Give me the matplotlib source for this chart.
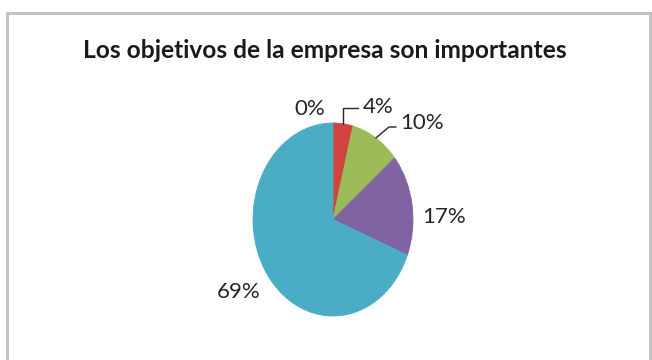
import matplotlib
matplotlib.use("Agg")
import matplotlib.pyplot as plt
from matplotlib.patches import Rectangle
import numpy as np

# Survey answers for "Los objetivos de la empresa son importantes"
categories = ["Totalmente en desacuerdo", "En desacuerdo", "Indiferente",
              "De acuerdo", "Totalmente de acuerdo"]
values = [0, 4, 10, 17, 69]
labels = [f"{v}%" for v in values]
colors = ["#4F81BD", "#D0433F", "#9BBB59", "#8064A2", "#4BACC6"]
title = "Los objetivos de la empresa son importantes"

W, H = 652, 360
fig = plt.figure(figsize=(W / 100, H / 100), dpi=100)
fig.patch.set_facecolor("white")

# chart area border
fig.patches.append(Rectangle((7, -10), 643, H - 13 + 10, transform=None,
                             fill=False, edgecolor="#c4c4c4", linewidth=2.2))

# pie axes (pixel box of the ellipse)
cx, cy, rx, ry = 333, 219.5, 80, 96.5
ax = fig.add_axes([(cx - rx) / W, (H - cy - ry) / H, 2 * rx / W, 2 * ry / H])
wedges, _ = ax.pie(values, colors=colors, startangle=90, counterclock=False,
                   radius=1, wedgeprops=dict(linewidth=0.6, edgecolor="#5a8fa8"))
for w, c in zip(wedges, colors):
    w.set_edgecolor(c)
ax.set_aspect("auto")
ax.set_xlim(-1, 1)
ax.set_ylim(-1, 1)
ax.axis("off")

font = "Lato"
lbl_kw = dict(fontsize=16, family=font, color="#262626",
              ha="center", va="center")

# mid angle of each slice (degrees, matplotlib convention)
cum = np.cumsum([0] + values)
total = cum[-1]
mids = [90 - 360 * (cum[i] + values[i] / 2) / total for i in range(len(values))]

def edge(i):
    a = np.deg2rad(mids[i])
    return (np.cos(a), np.sin(a))

# label positions in figure pixels (x, y from top)
pos = {0: (310, 109), 1: (378, 107), 2: (422, 123), 3: (444, 217), 4: (239, 292)}

for i, lab in enumerate(labels):
    x, y = pos[i]
    if i == 1:
        ax.annotate(lab, xy=edge(i), xycoords="data",
                    xytext=(x, H - y), textcoords="figure pixels",
                    arrowprops=dict(arrowstyle="-", color="#262626", lw=1.0,
                                    shrinkA=1, shrinkB=0,
                                    connectionstyle="angle,angleA=0,angleB=90,rad=0",
                                    relpos=(0, 0.45)),
                    **lbl_kw)
    elif i == 2:
        ax.annotate(lab, xy=edge(i), xycoords="data",
                    xytext=(x, H - y), textcoords="figure pixels",
                    arrowprops=dict(arrowstyle="-", color="#262626", lw=1.0,
                                    shrinkA=1, shrinkB=0,
                                    connectionstyle="angle,angleA=0,angleB=40,rad=0",
                                    relpos=(0, 0.3)),
                    **lbl_kw)
    else:
        fig.text(x / W, (H - y) / H, lab, **lbl_kw)

# title, sized to span its box
t = fig.text(325 / W, (H - 58) / H, title, fontsize=16, family=font,
             fontweight="bold", color="#1a1a1a", ha="center", va="baseline")
fig.canvas.draw()
r = fig.canvas.get_renderer()
wpx = t.get_window_extent(r).width
t.set_fontsize(16 * 484 / wpx)

fig.savefig("out.png", dpi=100, facecolor="white")
